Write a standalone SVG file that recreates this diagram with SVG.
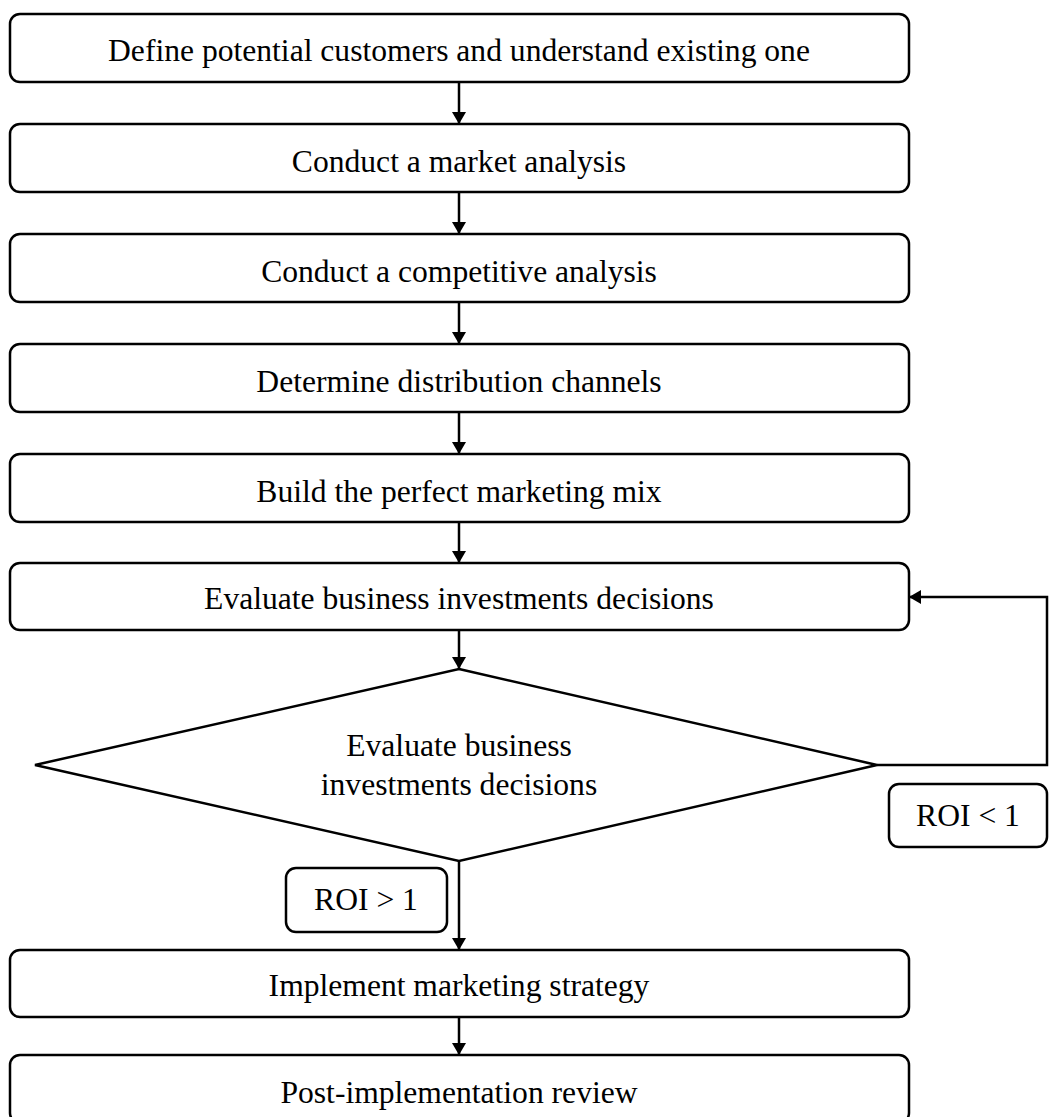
<svg xmlns="http://www.w3.org/2000/svg" width="1049" height="1117" viewBox="0 0 1049 1117">
<defs>
<marker id="ah" markerWidth="12" markerHeight="14" refX="12" refY="7" orient="auto" markerUnits="userSpaceOnUse">
<path d="M0,0 L12,7 L0,14 Z" fill="#000"/>
</marker>
<style>
.box{fill:#fff;stroke:#000;stroke-width:2.5}
.t{font-family:"Liberation Serif","Times New Roman",serif;font-size:31.6px;fill:#000;text-anchor:middle;dominant-baseline:central}
.c{fill:none;stroke:#000;stroke-width:2.5}
</style>
</defs>
<rect width="1049" height="1117" fill="#fff"/>
<g id="connectors">
<line class="c" x1="459" y1="82" x2="459" y2="124" marker-end="url(#ah)"/>
<line class="c" x1="459" y1="192" x2="459" y2="234" marker-end="url(#ah)"/>
<line class="c" x1="459" y1="302" x2="459" y2="344" marker-end="url(#ah)"/>
<line class="c" x1="459" y1="412" x2="459" y2="454" marker-end="url(#ah)"/>
<line class="c" x1="459" y1="522" x2="459" y2="563" marker-end="url(#ah)"/>
<line class="c" x1="459" y1="630" x2="459" y2="669" marker-end="url(#ah)"/>
<line class="c" x1="459" y1="861" x2="459" y2="950" marker-end="url(#ah)"/>
<line class="c" x1="459" y1="1017" x2="459" y2="1055" marker-end="url(#ah)"/>
<polyline class="c" points="877,765 1047,765 1047,597 909,597" marker-end="url(#ah)"/>
</g>
<g id="n1"><rect class="box" x="10" y="14" width="899" height="68" rx="10"/><text class="t" x="459" y="50">Define potential customers and understand existing one</text></g>
<g id="n2"><rect class="box" x="10" y="124" width="899" height="68" rx="10"/><text class="t" x="459" y="161">Conduct a market analysis</text></g>
<g id="n3"><rect class="box" x="10" y="234" width="899" height="68" rx="10"/><text class="t" x="459" y="271">Conduct a competitive analysis</text></g>
<g id="n4"><rect class="box" x="10" y="344" width="899" height="68" rx="10"/><text class="t" x="459" y="381">Determine distribution channels</text></g>
<g id="n5"><rect class="box" x="10" y="454" width="899" height="68" rx="10"/><text class="t" x="459" y="491">Build the perfect marketing mix</text></g>
<g id="n6"><rect class="box" x="10" y="563" width="899" height="67" rx="10"/><text class="t" x="459" y="598">Evaluate business investments decisions</text></g>
<g id="n7"><polygon class="box" points="459,669 877,765 459,861 35,765"/><text class="t" x="459" y="745">Evaluate business</text><text class="t" x="459" y="784">investments decisions</text></g>
<g id="lbl1"><rect class="box" x="889" y="784" width="158" height="63" rx="10"/><text class="t" x="968" y="815">ROI &lt; 1</text></g>
<g id="lbl2"><rect class="box" x="286" y="868" width="161" height="64" rx="10"/><text class="t" x="366" y="899">ROI &gt; 1</text></g>
<g id="n8"><rect class="box" x="10" y="950" width="899" height="67" rx="10"/><text class="t" x="459" y="985">Implement marketing strategy</text></g>
<g id="n9"><rect class="box" x="10" y="1055" width="899" height="68" rx="10"/><text class="t" x="459" y="1092">Post-implementation review</text></g>
</svg>
